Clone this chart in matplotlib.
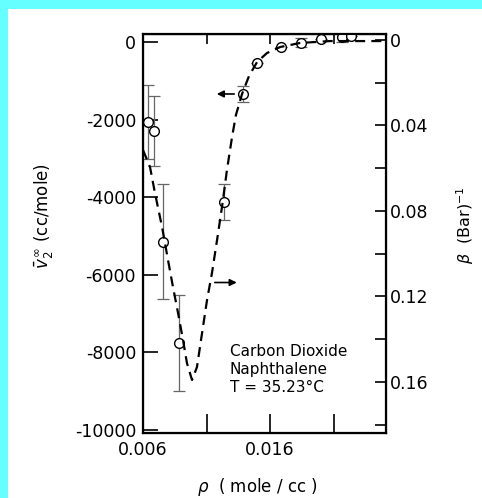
import numpy as np
import matplotlib
matplotlib.use("Agg")
import matplotlib.pyplot as plt
from matplotlib.patches import Rectangle

plt.rcParams['font.family'] = ['DejaVu Sans']
plt.rcParams['axes.unicode_minus'] = False

# measured partial molar volume (left axis)
rho_pts = [0.0064, 0.0069, 0.0076, 0.0088, 0.0124, 0.0139, 0.0150, 0.0169, 0.0184, 0.0200, 0.0217, 0.0224]
v2_pts = [-2060, -2290, -5150, -7750, -4120, -1340, -540, -130, -20, 70, 130, 160]
v2_err = [950, 900, 1480, 1240, 460, 200, 0, 0, 120, 0, 120, 0]

# isothermal compressibility curve (right axis)
rho_curve = [0.0060, 0.00655, 0.00694, 0.0075, 0.00797, 0.00836, 0.00876, 0.00915, 0.00946,
             0.00986, 0.01025, 0.01065, 0.01104, 0.01143, 0.01183, 0.01222, 0.01261, 0.01301,
             0.01332, 0.01380, 0.01435, 0.01498, 0.01576, 0.01679, 0.01836, 0.02072, 0.0251]
beta_curve = [0.0515, 0.0594, 0.0716, 0.0875, 0.1030, 0.1156, 0.1278, 0.1404, 0.1512,
              0.1591, 0.1530, 0.1371, 0.1217, 0.1090, 0.0936, 0.0781, 0.0608, 0.0454,
              0.0350, 0.0252, 0.0168, 0.0103, 0.0061, 0.0033, 0.0014, 0.0005, 0.0005]

left_ticks = [0, -2000, -4000, -6000, -8000, -10000]
right_ticks = [0, 0.04, 0.08, 0.12, 0.16]
right_labels = ["0", "0.04", "0.08", "0.12", "0.16"]
right_minor = [0.02, 0.06, 0.10, 0.14, 0.18]
x_ticks = [0.006, 0.011, 0.016, 0.021]
x_labels = ["0.006", "", "0.016", ""]

fig = plt.figure(figsize=(4.82, 4.98), dpi=100)
fig.patch.set_facecolor("#66ffff")
fig.patches.append(Rectangle((8 / 482, 0), 1, 1 - 9 / 498, transform=fig.transFigure,
                             facecolor="white", edgecolor="none", zorder=-1))

ax = fig.add_axes([0.2967, 0.1305, 0.5041, 0.8012])
ax.set_facecolor("none")
ax.errorbar(rho_pts, v2_pts, yerr=v2_err, fmt="none", ecolor="#666666",
            elinewidth=0.9, capsize=4, capthick=0.9, zorder=2)
ax.plot(rho_pts, v2_pts, "o", mfc="white", mec="black", mew=1.0, ms=7, zorder=4)

ax.set_xlim(0.006, 0.02513)
ax.set_ylim(-10080, 206)
ax.set_xticks(x_ticks)
ax.set_xticklabels(x_labels, fontsize=12.5)
ax.set_yticks(left_ticks)
ax.set_yticklabels([str(t) for t in left_ticks], fontsize=12.5)
ax.tick_params(axis="y", direction="in", length=11, width=1.2, pad=5)
ax.tick_params(axis="x", direction="in", length=14, width=1.2, pad=6)
for s in ax.spines.values():
    s.set_linewidth(1.6)

top = ax.secondary_xaxis("top")
top.set_xticks(x_ticks)
top.set_xticklabels([])
top.tick_params(direction="in", length=7, width=1.2)

ax2 = ax.twinx()
ax2.plot(rho_curve, beta_curve, color="black", lw=1.6, dashes=(4.5, 2.8), zorder=3)
ax2.set_ylim(0.1839, -0.0028)
ax2.set_yticks(right_ticks)
ax2.set_yticklabels(right_labels, fontsize=12.5)
ax2.set_yticks(right_minor, minor=True)
ax2.tick_params(axis="y", which="both", direction="in", length=8, width=1.2, pad=3)

ax.set_xlabel(r"$\rho$  ( mole / cc )", fontsize=12)
ax.xaxis.set_label_coords(0.47, -0.108)
ax.set_ylabel(r"$\bar{v}_2^{\,\infty}$ (cc/mole)", fontsize=12)
ax.yaxis.set_label_coords(-0.36, 0.545)
ax2.set_ylabel(r"$\beta$  (Bar)$^{-1}$", fontsize=11.5)
ax2.yaxis.set_label_coords(1.28, 0.52)

# arrows telling which axis belongs to which series
ax.annotate("", xy=(0.01159, -1340), xytext=(0.0134, -1340),
            arrowprops=dict(arrowstyle="-|>", color="black", lw=1.2, mutation_scale=10))
ax.annotate("", xy=(0.0136, -6200), xytext=(0.01143, -6200),
            arrowprops=dict(arrowstyle="-|>", color="black", lw=1.2, mutation_scale=10))

ax.text(0.358, 0.158, "Carbon Dioxide\nNaphthalene\nT = 35.23\u00b0C", transform=ax.transAxes,
        ha="left", va="center", fontsize=11, linespacing=1.25)

fig.savefig("out.png", dpi=100, facecolor=fig.get_facecolor())
